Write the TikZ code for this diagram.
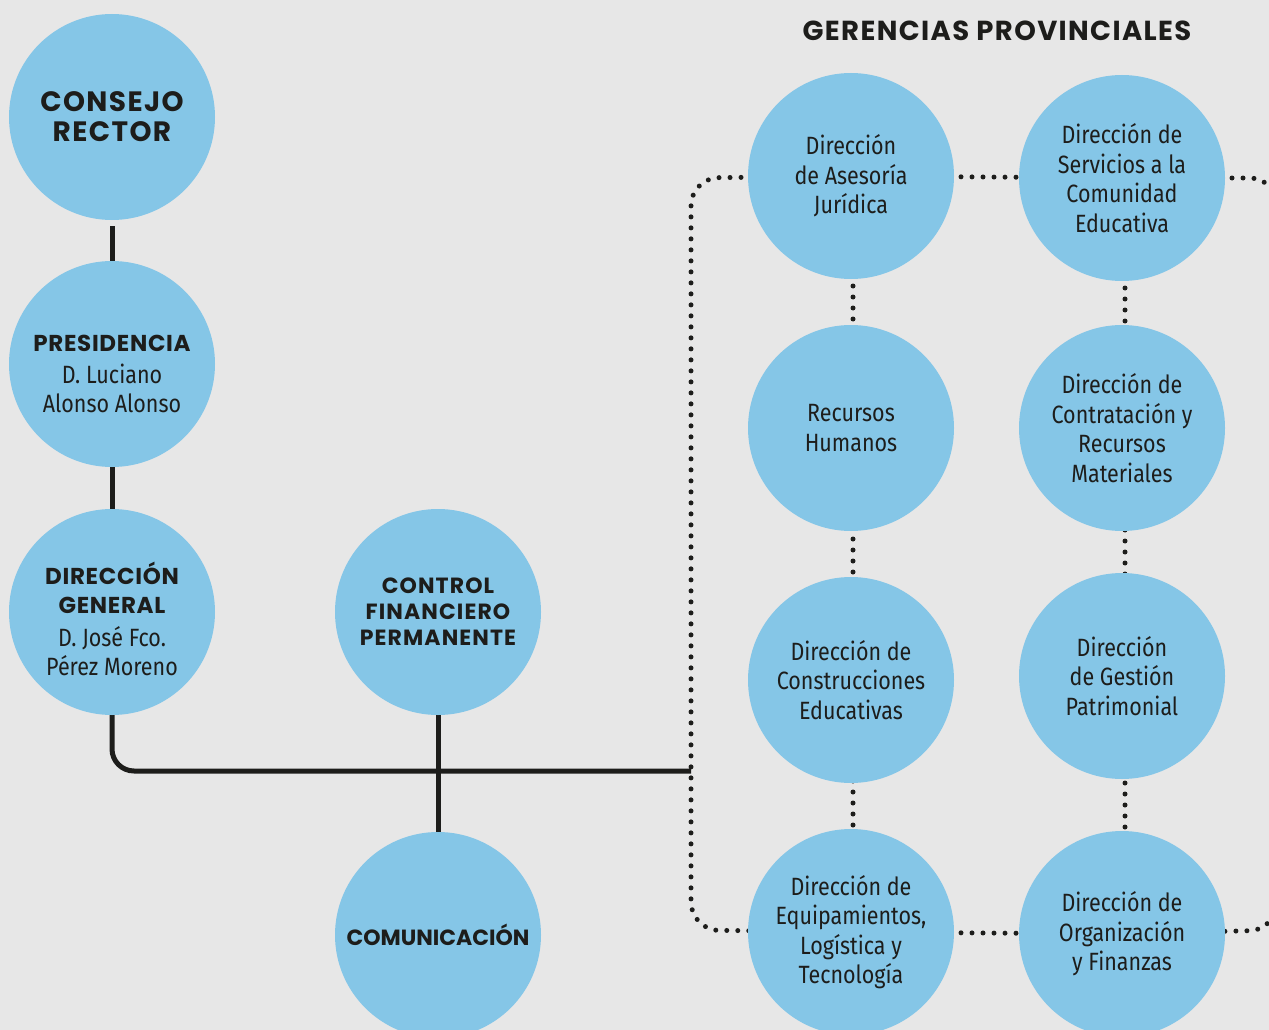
\documentclass[tikz,border=0pt]{standalone}
\usepackage{fontspec}
\setmainfont{Fira Sans}
\newfontfamily\hdfont{Poppins}
\newfontfamily\hdfontA[LetterSpace=5]{Poppins}
\newfontfamily\hdfontB[LetterSpace=3]{Poppins}
\newfontfamily\bodyfont[FakeStretch=0.86]{Fira Sans}
\usetikzlibrary{backgrounds}
\definecolor{cblue}{HTML}{85C6E7}
\definecolor{bgc}{HTML}{E7E7E7}
\definecolor{ink}{HTML}{1D1D1B}
\begin{document}
\begin{tikzpicture}[x=1pt,y=-1pt,
  circ/.style={circle, fill=cblue, minimum size=206pt, inner sep=0pt, align=center, text=ink,
    font=\bodyfont\fontsize{25}{29.5}\selectfont},
  txt/.style={align=center, text=ink, inner sep=0pt, font=\bodyfont\fontsize{25}{29}\selectfont},
  solidln/.style={draw=ink, line width=5pt},
  dotln/.style={draw=ink, line width=5pt, line cap=round, dash pattern=on 0pt off 11pt}]
\useasboundingbox (0,0) rectangle (1269,1030);
\node[text=ink, font=\hdfontA\bfseries\fontsize{27.5}{30}\selectfont] (title) at (997,31) {GERENCIAS PROVINCIALES};
\node[circ, font=\hdfontA\bfseries\fontsize{28}{30}\selectfont] (cr) at (112,117) {CONSEJO\\RECTOR};
\node[circ] (pres) at (112,364) {};
\node[txt] (prest) at (112,374) {{\hdfontB\bfseries\fontsize{23}{28}\selectfont PRESIDENCIA}\\[3pt]D. Luciano\\Alonso Alonso};
\node[circ] (dg) at (112,612) {};
\node[txt] (dgt) at (112,619) {{\hdfontB\bfseries\fontsize{23}{27}\selectfont DIRECCIÓN}\\{\hdfontB\bfseries\fontsize{23}{27}\selectfont GENERAL}\\[4pt]D. José Fco.\\Pérez Moreno};
\node[circ, font=\hdfontA\bfseries\fontsize{22}{26}\selectfont] (cfp) at (438,612) {CONTROL\\FINANCIERO\\PERMANENTE};
\node[circ, font=\hdfont\bfseries\fontsize{22}{26}\selectfont] (com) at (438,935) {COMUNICACIÓN};
\node[circ] (a1) at (851,176) {Dirección\\de Asesoría\\Jurídica};
\node[circ] (a2) at (851,428) {Recursos\\Humanos};
\node[circ] (a3) at (851,680) {Dirección de\\Construcciones\\Educativas};
\node[circ] (a4) at (851,932) {Dirección de\\Equipamientos,\\Logística y\\Tecnología};
\node[circ] (b1) at (1122,178) {Dirección de\\Servicios a la\\Comunidad\\Educativa};
\node[circ] (b2) at (1122,428) {Dirección de\\Contratación y\\Recursos\\Materiales};
\node[circ] (b3) at (1122,676) {Dirección\\de Gestión\\Patrimonial};
\node[circ] (b4) at (1122,934) {Dirección de\\Organización\\y Finanzas};
\coordinate (jn) at (691,771);
\coordinate (lt) at (691,178);
\coordinate (lb) at (691,930);
\coordinate (rt) at (1276,178);
\coordinate (rb) at (1276,930);
\begin{scope}[on background layer]
  \fill[bgc] (0,0) rectangle (1269,1030);
  \draw[solidln] ([yshift=-6pt]cr.south) -- (pres.center);
  \draw[solidln] (pres.center) -- (dg.center);
  \draw[solidln, rounded corners=22pt] (dg.center) |- (jn);
  \draw[solidln] (cfp.center) -- (com.center);
  \draw[dotln, rounded corners=28pt] (a1.center) -- (lt) -- (lb) -- (a4.center);
  \draw[dotln, rounded corners=26pt] (b1.center) -- (rt) -- (rb) -- (b4.center);
  \draw[dotln] (a1.center) -- (b1.center);
  \draw[dotln] (a4.center) -- (b4.center);
  \draw[dotln] ([xshift=2pt]a1.center) -- ([xshift=2pt]a4.center);
  \draw[dotln] ([xshift=3pt]b1.center) -- ([xshift=3pt]b4.center);
\end{scope}
\end{tikzpicture}
\end{document}
